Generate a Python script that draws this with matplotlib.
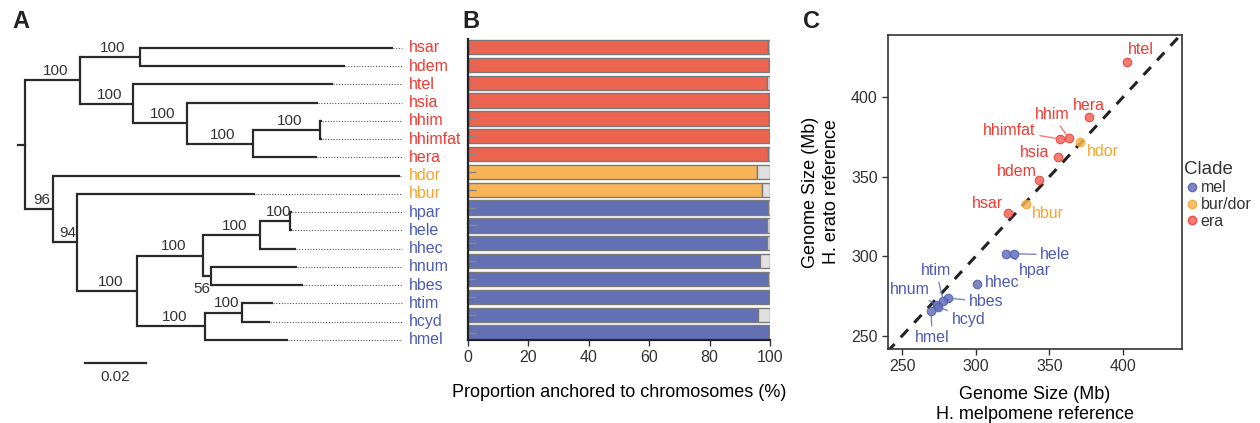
import matplotlib
matplotlib.use("Agg")
import matplotlib.pyplot as plt
from matplotlib.lines import Line2D

plt.rcParams["font.family"] = ["Liberation Sans", "DejaVu Sans"]
plt.rcParams["text.color"] = "#333333"

RED_TXT = "#EE3B33"
ORG_TXT = "#F6A52C"
BLU_TXT = "#4E5DB2"
clade_txt = {"era": RED_TXT, "bur/dor": ORG_TXT, "mel": BLU_TXT}
clade_bar = {"era": "#EC6350", "bur/dor": "#F9B455", "mel": "#6470B4"}
clade_pt = {"era": "#F2665A", "bur/dor": "#F8B355", "mel": "#6670B8"}

# phylogeny (branch lengths in substitutions/site, node labels = bootstrap)
newick = ("(((hsar:0.0830,hdem:0.0672)100:0.0197,(htel:0.0656,(hsia:0.0430,"
          "((hhim:0.0007,hhimfat:0.0007)100:0.0220,hera:0.0210)100:0.0216)100:0.0177)"
          "100:0.0174)100:0.0180,(hdor:0.1138,(hbur:0.0584,((((hpar:0.0007,hele:0.0007)"
          "100:0.0098,hhec:0.0118)100:0.0187,(hnum:0.0282,hbes:0.0302)56:0.0026)100:0.0216,"
          "((htim:0.0102,hcyd:0.0092)100:0.0121,hmel:0.0272)100:0.0223)100:0.0197)94:0.0079)"
          "96:0.0092);")

taxa = ["hsar", "hdem", "htel", "hsia", "hhim", "hhimfat", "hera", "hdor", "hbur",
        "hpar", "hele", "hhec", "hnum", "hbes", "htim", "hcyd", "hmel"]
clades = ["era"] * 7 + ["bur/dor"] * 2 + ["mel"] * 8

# panel B: % of assembly anchored to chromosomes
anchored = [99.4, 99.8, 99.1, 99.8, 99.8, 99.9, 99.2, 95.6, 97.2,
            99.2, 98.9, 99.0, 96.7, 99.3, 99.8, 95.9, 99.8]

# panel C: genome sizes (Mb) against each reference
size_mel = [321.7, 342.7, 402.4, 355.6, 363.2, 357.1, 376.8, 371.1, 334.2,
            320.6, 325.8, 301.2, 273.6, 281.3, 278.1, 274.5, 269.7]
size_era = [327.5, 348.1, 422.1, 362.1, 374.1, 373.7, 387.7, 371.8, 333.0,
            301.6, 301.6, 282.5, 269.5, 273.7, 272.2, 268.4, 265.7]
# label positions (x, y) in data units; connector line drawn when flagged
label_pos = {"htel": (412, 430, False), "hera": (377, 395, False), "hhim": (352, 389, True),
             "hhimfat": (323, 379, True), "hdor": (386, 366, False), "hsia": (340, 365, False),
             "hdem": (328, 353, False), "hsar": (308, 333, False), "hbur": (349, 327, False),
             "hele": (354, 301, True), "hpar": (340, 291, True), "hhec": (318, 283.5, False),
             "htim": (273, 291, True), "hnum": (255, 279, True), "hbes": (307, 271.5, True),
             "hcyd": (295, 260.5, True), "hmel": (270.5, 249, True)}


def parse(s):
    """tiny newick reader -> (name, length, children)"""
    pos = [0]

    def node():
        children = []
        if s[pos[0]] == "(":
            pos[0] += 1
            while True:
                children.append(node())
                c = s[pos[0]]
                pos[0] += 1
                if c == ")":
                    break
        start = pos[0]
        while s[pos[0]] not in ",():;":
            pos[0] += 1
        name = s[start:pos[0]]
        length = 0.0
        if s[pos[0]] == ":":
            pos[0] += 1
            start = pos[0]
            while s[pos[0]] not in ",();":
                pos[0] += 1
            length = float(s[start:pos[0]])
        return (name, length, children)

    return node()


fig = plt.figure(figsize=(12.6, 4.23), dpi=100)
W, H = 1260, 423


def px_axes(x0, y0, x1, y1):
    return fig.add_axes([x0 / W, 1 - y1 / H, (x1 - x0) / W, (y1 - y0) / H])


# ---------------- A: tree ----------------
axA = px_axes(10, 30, 460, 400)
axA.set_xlim(-0.0049, 0.1426)
axA.set_ylim(19.29, -0.986)
axA.axis("off")
lw = 1.6
tip_end = 0.1236


def draw(nd, x0, parent_x):
    name, length, kids = nd
    x = x0 + length
    if not kids:
        y = taxa.index(name)
        if parent_x is not None:
            axA.plot([x0, x], [y, y], color="#2a2a2a", lw=lw, solid_capstyle="butt")
        axA.plot([x, tip_end], [y, y], color="#555555", lw=0.8, ls=(0, (1, 1.5)))
        axA.text(tip_end + 0.0023, y, name, color=clade_txt[clades[y]],
                 va="center", ha="left", fontsize=11.5)
        return y
    ys = [draw(k, x, x) for k in kids]
    y = (min(ys) + max(ys)) / 2
    axA.plot([x, x], [min(ys), max(ys)], color="#2a2a2a", lw=lw, solid_capstyle="projecting")
    if parent_x is not None:
        axA.plot([x0, x], [y, y], color="#2a2a2a", lw=lw, solid_capstyle="butt")
    else:
        axA.plot([x - 0.0023, x], [y, y], color="#2a2a2a", lw=lw)
    if name == "56":
        axA.text(x - 0.0003, y + 0.35, name, ha="right", va="top", fontsize=11)
    elif name:
        axA.text((x0 + x) / 2 + 0.001, y - 0.12, name, ha="center", va="bottom", fontsize=11)
    return y


draw(parse(newick), 0.0, None)
axA.plot([0.0197, 0.0397], [17.26, 17.26], color="#2a2a2a", lw=lw)
axA.text(0.0297, 17.65, "0.02", ha="center", va="top", fontsize=11)

# ---------------- B: bars ----------------
axB = px_axes(468, 39, 770, 340)
ypos = list(range(len(taxa)))
rest = [100 - a for a in anchored]
axB.barh(ypos, anchored, height=0.8, color=[clade_bar[c] for c in clades],
         edgecolor="#7a7a7a", linewidth=1.0)
axB.barh(ypos, rest, left=anchored, height=0.8, color="#E0E0E0",
         edgecolor="#7a7a7a", linewidth=1.0)
axB.set_xlim(0, 100)
axB.set_ylim(16.42, -0.45)
axB.set_yticks(ypos)
axB.set_yticklabels([])
axB.tick_params(axis="y", direction="in", length=6, color="#888888", width=1)
axB.set_xticks([0, 20, 40, 60, 80, 100])
axB.tick_params(axis="x", length=4, width=1, labelsize=11.5, colors="#333333", pad=3)
for s in ["top", "right"]:
    axB.spines[s].set_visible(False)
for s in ["left", "bottom"]:
    axB.spines[s].set_linewidth(1.6)
    axB.spines[s].set_color("#222222")
axB.set_xlabel("Proportion anchored to chromosomes (%)", fontsize=13, labelpad=14)

# ---------------- C: scatter ----------------
axC = px_axes(888, 35, 1182, 349)
axC.set_xlim(240.5, 440)
axC.set_ylim(241.8, 439)
axC.plot([240, 440], [240, 440], color="#222222", lw=2.2, ls=(0, (3.5, 3)), zorder=1)
for i, t in enumerate(taxa):
    c = clades[i]
    axC.scatter(size_mel[i], size_era[i], s=38, color=clade_pt[c], alpha=0.85,
                edgecolor=clade_txt[c], linewidth=0.8, zorder=3)
    lx, ly, line = label_pos[t]
    if line:
        axC.annotate(t, (size_mel[i], size_era[i]), (lx, ly), color=clade_txt[c],
                     fontsize=11.5, ha="center", va="center",
                     arrowprops=dict(arrowstyle="-", color=clade_pt[c], lw=1.0, alpha=0.85,
                                     shrinkA=1, shrinkB=3))
    else:
        axC.text(lx, ly, t, color=clade_txt[c], fontsize=11.5, ha="center", va="center")
axC.set_xticks([250, 300, 350, 400])
axC.set_yticks([250, 300, 350, 400])
axC.tick_params(length=4, width=1, labelsize=11.5, colors="#333333")
for s in axC.spines.values():
    s.set_linewidth(1.2)
    s.set_color("#333333")
axC.set_xlabel("Genome Size (Mb)\nH. melpomene reference", fontsize=13, labelpad=8,
               linespacing=1.25)
axC.set_ylabel("Genome Size (Mb)\nH. erato reference", fontsize=13, labelpad=8,
               linespacing=1.25)
handles = [Line2D([], [], marker="o", ls="", markersize=6, markerfacecolor=clade_pt[c],
                  markeredgecolor=clade_txt[c], alpha=0.85, label=c)
           for c in ["mel", "bur/dor", "era"]]
leg = axC.legend(handles=handles, title="Clade", loc="center left", bbox_to_anchor=(0.995, 0.49),
                 frameon=False, fontsize=11.5, title_fontsize=13.5, handletextpad=0.05,
                 borderaxespad=0.0, borderpad=0.2, labelspacing=0.12, handlelength=1.0)
leg._legend_box.align = "left"

for lbl, x in [("A", 12), ("B", 462), ("C", 803)]:
    fig.text(x / W, 1 - 28 / H, lbl, fontsize=17, fontweight="bold", color="#222222")

fig.savefig("out.png", dpi=100)
